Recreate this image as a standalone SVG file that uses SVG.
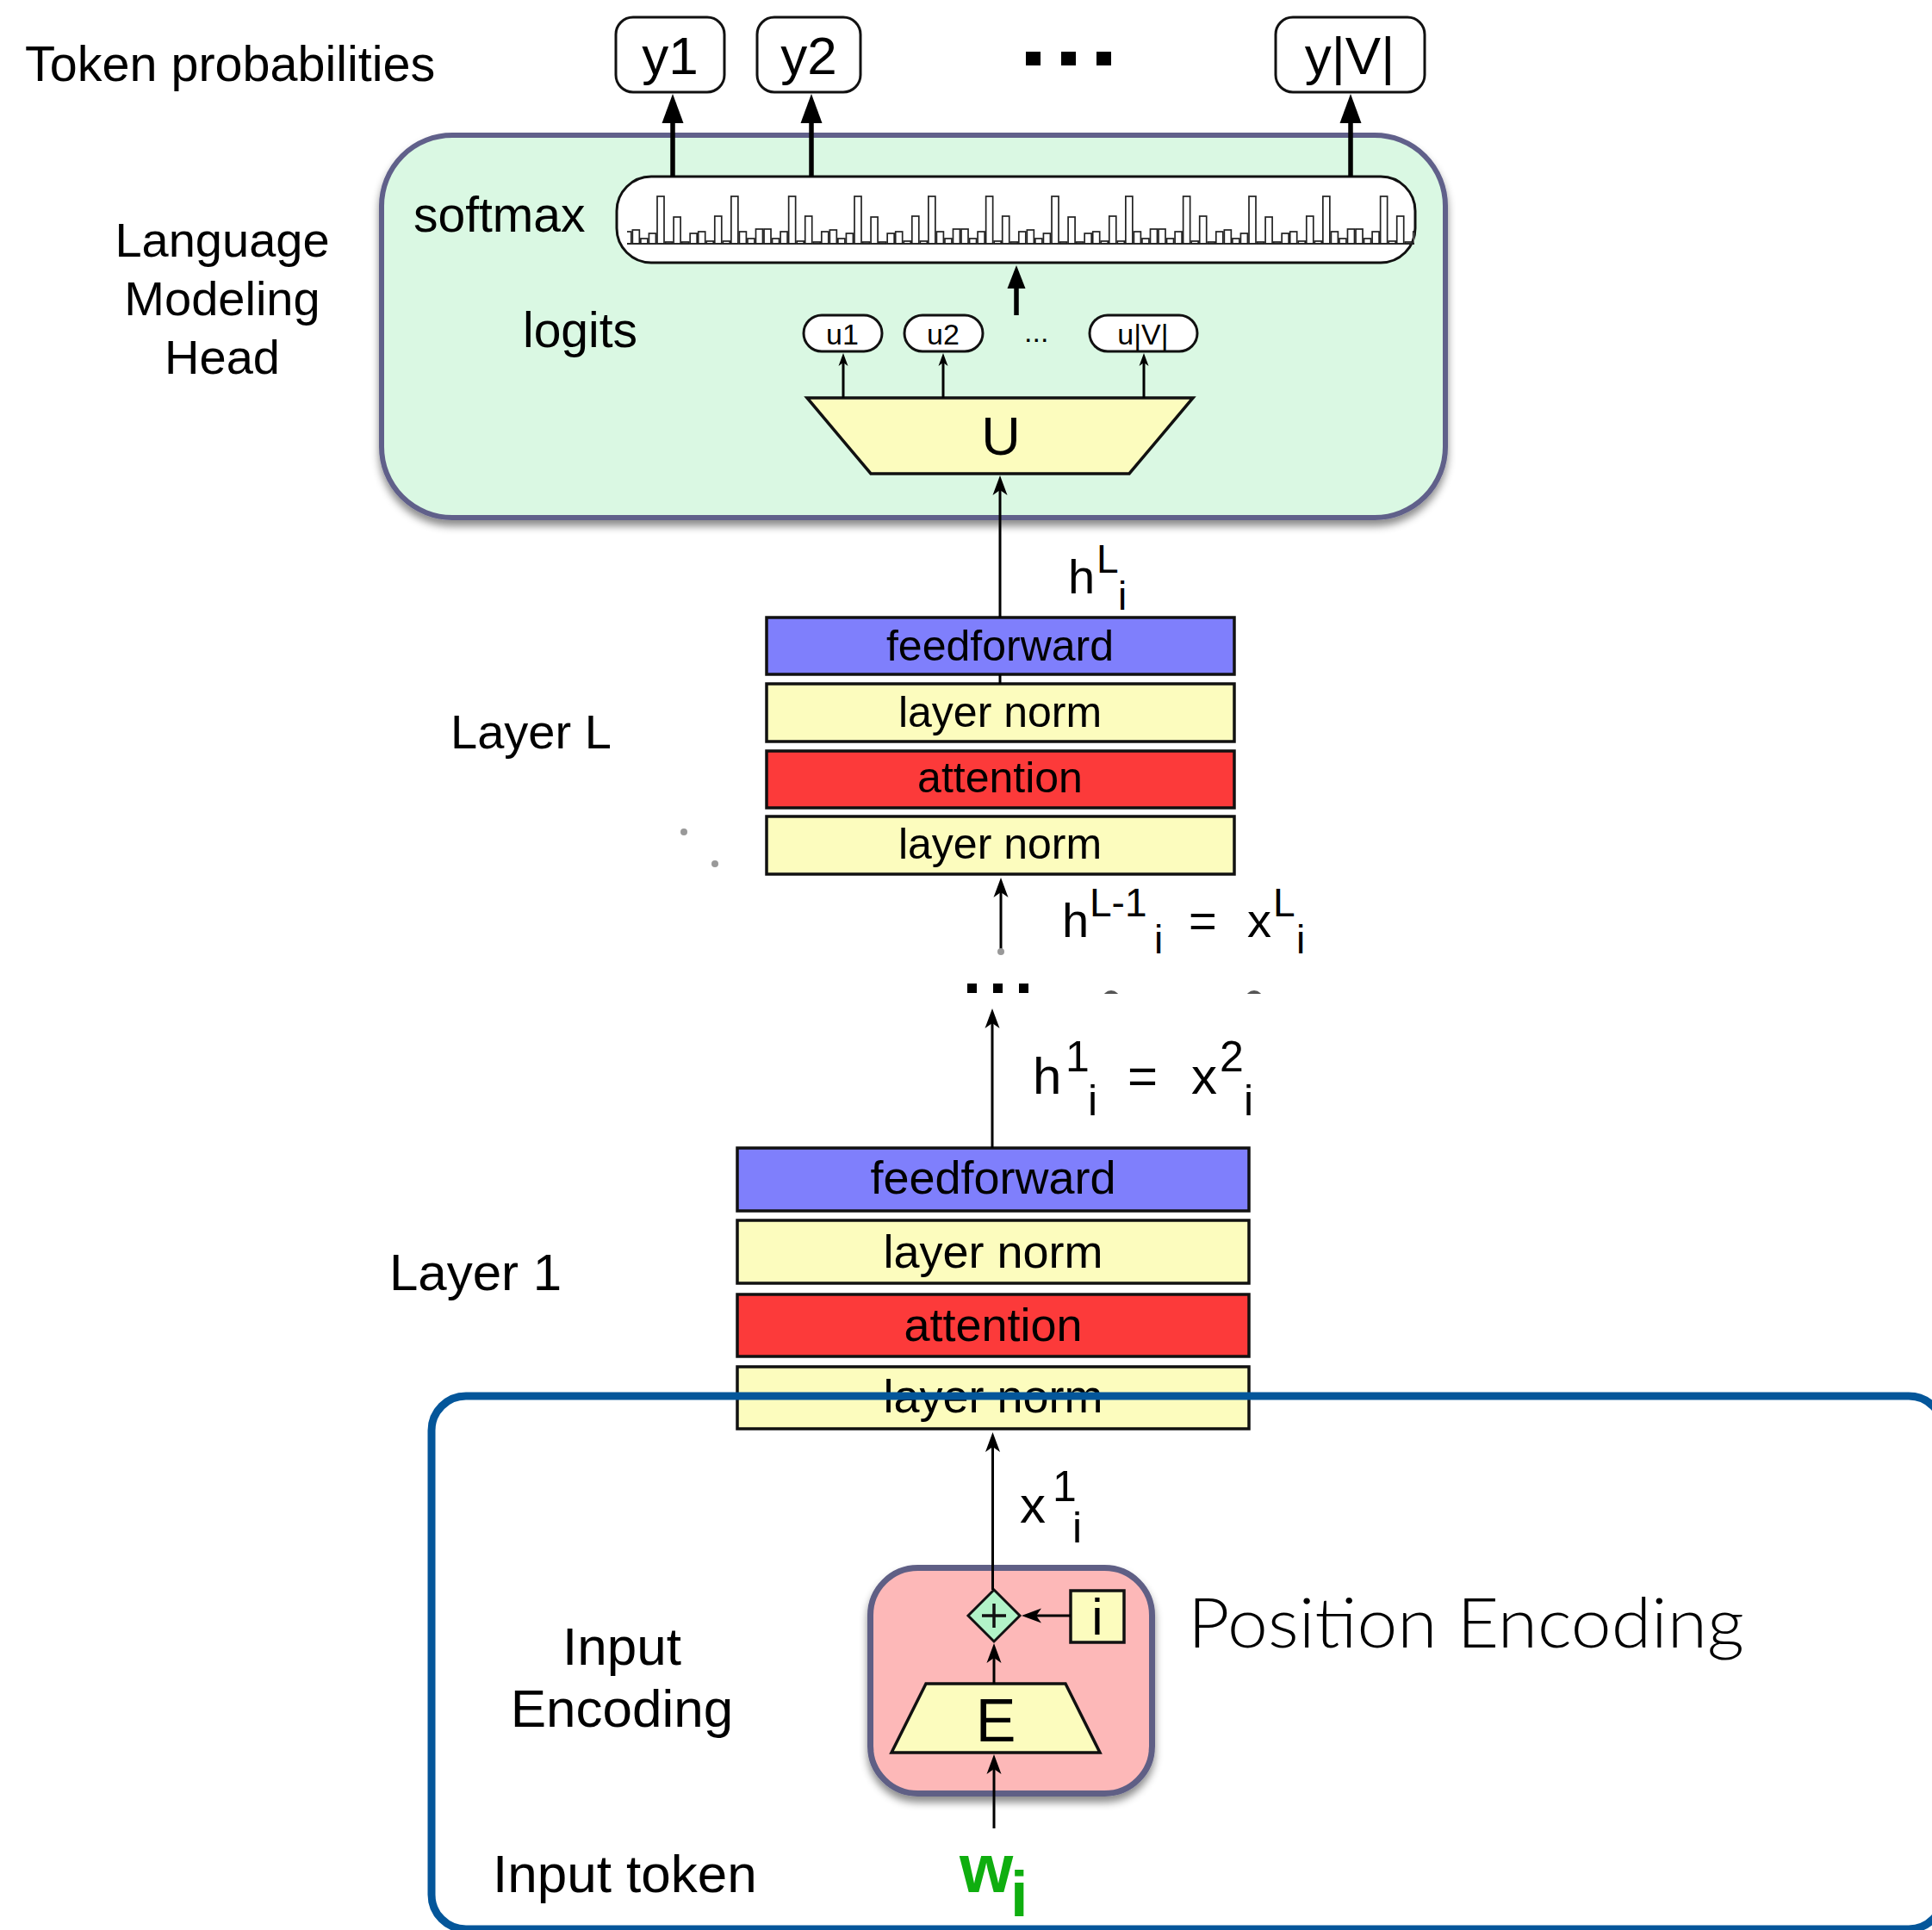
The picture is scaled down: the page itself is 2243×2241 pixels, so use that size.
<svg xmlns="http://www.w3.org/2000/svg" xmlns:xlink="http://www.w3.org/1999/xlink" width="2243" height="2241" viewBox="0 0 2243 2241">
  <style>
    .t { font-family: "Liberation Sans", Arial, Helvetica, sans-serif; fill: #000; }
    .pe { font-family: Lato, "Open Sans", "Liberation Sans", sans-serif; font-weight: 300; fill: #000; }
    .box { stroke: #111; stroke-width: 3.5; }
    .ff { fill: #7f7ffc; }
    .ln { fill: #fcfcbe; }
    .att { fill: #fc3a3a; }
    .yel { fill: #fcfcbe; stroke: #111; stroke-width: 3.5; }
    .pill { fill: #fff; stroke: #111; stroke-width: 3; }
    .thin { stroke: #000; stroke-width: 3; fill: none; }
    .thick { stroke: #000; stroke-width: 5.5; fill: none; }
    .bar { fill: #fff; stroke: #222; stroke-width: 1.7; }
  </style>
  <defs>
    <marker id="headBig" markerUnits="userSpaceOnUse" viewBox="0 -13 34 26" refX="0" refY="0" markerWidth="34" markerHeight="26" orient="auto">
      <path d="M34,0 L0,-12.5 L0,12.5 Z" fill="#000"/>
    </marker>
    <marker id="headMid" markerUnits="userSpaceOnUse" viewBox="0 -11 28 22" refX="0" refY="0" markerWidth="28" markerHeight="22" orient="auto">
      <path d="M27,0 L0,-10.5 L0,10.5 Z" fill="#000"/>
    </marker>
    <marker id="dart" markerUnits="userSpaceOnUse" viewBox="-14 -10 25 20" refX="0" refY="0" markerWidth="25" markerHeight="20" orient="auto">
      <path d="M10,0 L-13,-8.5 L-7,0 L-13,8.5 Z" fill="#000"/>
    </marker>
    <marker id="dartSmall" markerUnits="userSpaceOnUse" viewBox="-9 -7 17 14" refX="0" refY="0" markerWidth="17" markerHeight="14" orient="auto">
      <path d="M7,0 L-8,-5.5 L-4,0 L-8,5.5 Z" fill="#000"/>
    </marker>
    <filter id="shadow" x="-10%" y="-10%" width="120%" height="130%">
      <feDropShadow dx="0" dy="7" stdDeviation="5" flood-color="#000" flood-opacity="0.45"/>
    </filter>
    <clipPath id="histClip">
      <rect x="728" y="200" width="914" height="90"/>
    </clipPath>
    <clipPath id="dotsClip">
      <rect x="1100" y="1100" width="420" height="54"/>
    </clipPath>
    <!-- one repeat of the softmax distribution bars, baseline y=283 -->
    <g id="histPeriod">
      <rect class="bar" x="0" y="228" width="8" height="55"/>
      <rect class="bar" x="9.54" y="281" width="8" height="2"/>
      <rect class="bar" x="19.08" y="252" width="8" height="31"/>
      <rect class="bar" x="28.62" y="281" width="8" height="2"/>
      <rect class="bar" x="38.16" y="271" width="8" height="12"/>
      <rect class="bar" x="47.7" y="269" width="8" height="14"/>
      <rect class="bar" x="57.24" y="280" width="8" height="3"/>
      <rect class="bar" x="66.78" y="251" width="8" height="32"/>
      <rect class="bar" x="76.32" y="280" width="8" height="3"/>
      <rect class="bar" x="85.86" y="228" width="8" height="55"/>
      <rect class="bar" x="95.4" y="269" width="8" height="14"/>
      <rect class="bar" x="104.94" y="277" width="8" height="6"/>
      <rect class="bar" x="114.48" y="266" width="8" height="17"/>
      <rect class="bar" x="124.02" y="266" width="8" height="17"/>
      <rect class="bar" x="133.56" y="277" width="8" height="6"/>
      <rect class="bar" x="143.1" y="269" width="8" height="14"/>
      <rect class="bar" x="152.64" y="228" width="8" height="55"/>
      <rect class="bar" x="162.18" y="280" width="8" height="3"/>
      <rect class="bar" x="171.72" y="251" width="8" height="32"/>
      <rect class="bar" x="181.26" y="281" width="8" height="2"/>
      <rect class="bar" x="190.8" y="269" width="8" height="14"/>
      <rect class="bar" x="200.34" y="267" width="8" height="16"/>
      <rect class="bar" x="209.88" y="277" width="8" height="6"/>
      <rect class="bar" x="219.42" y="271" width="8" height="12"/>
    </g>
  </defs>

  <rect width="2243" height="2241" fill="#fff"/>

  <!-- side labels -->
  <g id="labels">
    <text class="t" x="29" y="94" font-size="57.5">Token probabilities</text>
    <text class="t" x="258" y="298" font-size="56" text-anchor="middle">Language</text>
    <text class="t" x="258" y="366" font-size="56" text-anchor="middle">Modeling</text>
    <text class="t" x="258" y="434" font-size="56" text-anchor="middle">Head</text>
    <text class="t" x="523" y="869" font-size="56">Layer L</text>
    <text class="t" x="452" y="1498" font-size="60">Layer 1</text>
    <text class="t" x="722" y="1933" font-size="62" text-anchor="middle">Input</text>
    <text class="t" x="722" y="2005" font-size="62" text-anchor="middle">Encoding</text>
    <text class="t" x="572" y="2197" font-size="62">Input token</text>
  </g>

  <!-- language modeling head -->
  <g id="lm-head">
    <rect x="443" y="157" width="1235" height="444" rx="82" fill="#daf8e3" stroke="#61618a" stroke-width="6" filter="url(#shadow)"/>
    <text class="t" x="480" y="269" font-size="57">softmax</text>
    <text class="t" x="607" y="403" font-size="57">logits</text>
  </g>

  <g id="softmax">
    <rect x="716" y="205" width="927" height="100" rx="40" fill="#fff" stroke="#111" stroke-width="3"/>
    <g clip-path="url(#histClip)">
      <use href="#histPeriod" xlink:href="#histPeriod" x="534"/>
      <use href="#histPeriod" xlink:href="#histPeriod" x="763"/>
      <use href="#histPeriod" xlink:href="#histPeriod" x="992"/>
      <use href="#histPeriod" xlink:href="#histPeriod" x="1221"/>
      <use href="#histPeriod" xlink:href="#histPeriod" x="1450"/>
      <line x1="728" y1="283" x2="1642" y2="283" stroke="#222" stroke-width="1.7"/>
    </g>
  </g>

  <g id="y1">
    <rect class="pill" x="715" y="20" width="126" height="87" rx="20"/>
    <text class="t" x="778" y="86" font-size="62" text-anchor="middle">y1</text>
  </g>
  <g id="y2">
    <rect class="pill" x="879" y="20" width="120" height="87" rx="20"/>
    <text class="t" x="939" y="86" font-size="62" text-anchor="middle">y2</text>
  </g>
  <g id="top-ellipsis">
    <rect x="1191" y="60" width="17" height="16"/>
    <rect x="1232" y="60" width="17" height="16"/>
    <rect x="1273" y="60" width="17" height="16"/>
  </g>
  <g id="yV">
    <rect class="pill" x="1481" y="20" width="173" height="87" rx="20"/>
    <text class="t" x="1567" y="86" font-size="62" text-anchor="middle">y|V|</text>
  </g>

  <g id="u1">
    <rect class="pill" x="933" y="366" width="91" height="42" rx="21"/>
    <text class="t" x="978" y="400" font-size="34" text-anchor="middle">u1</text>
  </g>
  <g id="u2">
    <rect class="pill" x="1050" y="366" width="91" height="42" rx="21"/>
    <text class="t" x="1095" y="400" font-size="34" text-anchor="middle">u2</text>
  </g>
  <text class="t" x="1189" y="397" font-size="34">...</text>
  <g id="uV">
    <rect class="pill" x="1265" y="366" width="125" height="42" rx="21"/>
    <text class="t" x="1327" y="400" font-size="34" text-anchor="middle">u|V|</text>
  </g>

  <g id="unembed">
    <polygon class="yel" points="937,462 1385,462 1311,550 1011,550"/>
    <text class="t" x="1162" y="528" font-size="63" text-anchor="middle">U</text>
  </g>

  <!-- layer L -->
  <g id="layer-L">
    <rect class="box ff" x="890" y="717" width="543" height="66"/>
    <text class="t" x="1161" y="767" font-size="50" text-anchor="middle">feedforward</text>
    <rect class="box ln" x="890" y="794" width="543" height="67"/>
    <text class="t" x="1161" y="844" font-size="50" text-anchor="middle">layer norm</text>
    <rect class="box att" x="890" y="872" width="543" height="66"/>
    <text class="t" x="1161" y="920" font-size="50" text-anchor="middle">attention</text>
    <rect class="box ln" x="890" y="948" width="543" height="67"/>
    <text class="t" x="1161" y="997" font-size="50" text-anchor="middle">layer norm</text>
  </g>

  <!-- layer 1 -->
  <g id="layer-1">
    <rect class="box ff" x="856" y="1333" width="594" height="73"/>
    <text class="t" x="1153" y="1386" font-size="54" text-anchor="middle">feedforward</text>
    <rect class="box ln" x="856" y="1417" width="594" height="73"/>
    <text class="t" x="1153" y="1472" font-size="54" text-anchor="middle">layer norm</text>
    <rect class="box att" x="856" y="1503" width="594" height="72"/>
    <text class="t" x="1153" y="1557" font-size="54" text-anchor="middle">attention</text>
    <rect class="box ln" x="856" y="1587" width="594" height="72"/>
    <text class="t" x="1153" y="1640" font-size="54" text-anchor="middle">layer norm</text>
  </g>

  <!-- hidden-state labels -->
  <g id="states">
    <text class="t" font-size="56"><tspan x="1240" y="689">h</tspan><tspan x="1273" y="665" font-size="46">L</tspan><tspan x="1298" y="708" font-size="46">i</tspan></text>
    <text class="t" font-size="56"><tspan x="1233" y="1088">h</tspan><tspan x="1265" y="1064" font-size="46">L-1</tspan><tspan x="1340" y="1107" font-size="46">i</tspan><tspan x="1380" y="1088">=</tspan><tspan x="1448" y="1088">x</tspan><tspan x="1478" y="1064" font-size="46">L</tspan><tspan x="1505" y="1107" font-size="46">i</tspan></text>
    <text class="t" font-size="60"><tspan x="1199" y="1270">h</tspan><tspan x="1237" y="1244" font-size="50">1</tspan><tspan x="1263" y="1295" font-size="50">i</tspan><tspan x="1309" y="1270">=</tspan><tspan x="1383" y="1270">x</tspan><tspan x="1416" y="1244" font-size="50">2</tspan><tspan x="1444" y="1295" font-size="50">i</tspan></text>
    <text class="t" font-size="60"><tspan x="1184" y="1768">x</tspan><tspan x="1222" y="1743" font-size="50">1</tspan><tspan x="1245" y="1791" font-size="50">i</tspan></text>
  </g>

  <!-- elided layers -->
  <g id="mid-ellipsis">
    <rect x="1123" y="1142" width="11" height="11"/>
    <rect x="1153" y="1142" width="11" height="11"/>
    <rect x="1183" y="1142" width="11" height="11"/>
    <g clip-path="url(#dotsClip)" fill="#555">
      <ellipse cx="1290" cy="1160" rx="10" ry="10"/>
      <ellipse cx="1456" cy="1160" rx="10" ry="10"/>
    </g>
    <circle cx="794" cy="966" r="4" fill="#999"/>
    <circle cx="830" cy="1003" r="4" fill="#999"/>
  </g>

  <!-- input encoding -->
  <g id="input-encoding">
    <rect x="1010.5" y="1820.5" width="327" height="262" rx="55" fill="#fdb8b8" stroke="#5f5f85" stroke-width="7" filter="url(#shadow)"/>
  </g>
  <g id="embed">
    <polygon class="yel" points="1075,1955 1237,1955 1277,2035 1035,2035"/>
    <text class="t" x="1156" y="2022" font-size="70" text-anchor="middle">E</text>
  </g>
  <g id="add">
    <polygon points="1154,1846 1184,1876 1154,1906 1124,1876" fill="#b2f3c8" stroke="#111" stroke-width="3"/>
    <path d="M1140,1876 H1168 M1154,1862 V1890" stroke="#111" stroke-width="3.5"/>
  </g>
  <g id="position">
    <rect class="yel" x="1243" y="1847" width="62" height="60" stroke-width="3"/>
    <text class="t" x="1274" y="1898" font-size="60" text-anchor="middle">i</text>
  </g>
  <text class="pe" x="1379" y="1913" font-size="80" textLength="646" lengthAdjust="spacingAndGlyphs">Position Encoding</text>

  <g id="token">
    <text font-family="Liberation Sans, Arial, sans-serif" font-weight="bold" fill="#0fae0f"><tspan x="1114" y="2197" font-size="80">w</tspan><tspan x="1173" y="2225" font-size="74">i</tspan></text>
  </g>

  <!-- connectors -->
  <g id="connectors">
    <path class="thick" d="M781,205 V143" marker-end="url(#headBig)"/>
    <path class="thick" d="M942,205 V143" marker-end="url(#headBig)"/>
    <path class="thick" d="M1568,205 V143" marker-end="url(#headBig)"/>
    <path class="thick" d="M1180,366 V335" marker-end="url(#headMid)"/>
    <path class="thin" d="M979,462 V417" stroke-width="2.5" marker-end="url(#dartSmall)"/>
    <path class="thin" d="M1095,462 V417" stroke-width="2.5" marker-end="url(#dartSmall)"/>
    <path class="thin" d="M1328,462 V417" stroke-width="2.5" marker-end="url(#dartSmall)"/>
    <path class="thin" d="M1161,717 V562" marker-end="url(#dart)"/>
    <path class="thin" d="M1161,783 V794"/>
    <path class="thin" d="M1162,1105 V1029" marker-end="url(#dart)"/>
    <circle cx="1162" cy="1105" r="4" fill="#999"/>
    <path class="thin" d="M1152,1333 V1181" marker-end="url(#dart)"/>
    <path class="thin" d="M1152.5,1846 V1673" marker-end="url(#dart)"/>
    <path class="thin" d="M1154,1955 V1918" marker-end="url(#dart)"/>
    <path class="thin" d="M1243,1876 H1196" marker-end="url(#dart)"/>
    <path class="thin" d="M1154,2123 V2047" marker-end="url(#dart)"/>
  </g>

  <!-- outline around the input stage -->
  <rect id="input-frame" x="501" y="1621" width="1755" height="619" rx="40" fill="none" stroke="#04569a" stroke-width="9"/>
</svg>
